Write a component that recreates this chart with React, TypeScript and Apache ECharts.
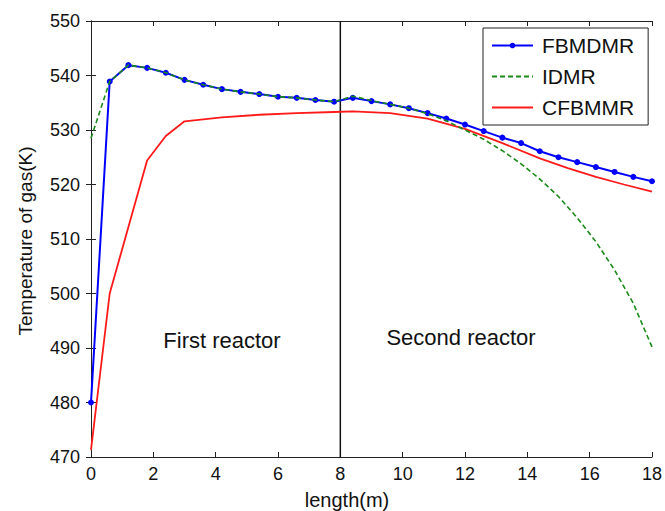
import React, { useEffect, useRef } from "react";
import * as echarts from "echarts";

const xPositions = [0, 0.6, 1.2, 1.8, 2.4, 3.0, 3.6, 4.2, 4.8, 5.4, 6.0, 6.6, 7.2, 7.8, 8.4, 9.0, 9.6, 10.2, 10.8, 11.4, 12.0, 12.6, 13.2, 13.8, 14.4, 15.0, 15.6, 16.2, 16.8, 17.4, 18.0];
const fbmdmr = [480.0, 538.9, 541.9, 541.4, 540.5, 539.2, 538.3, 537.5, 537.0, 536.6, 536.1, 535.9, 535.5, 535.2, 535.9, 535.3, 534.7, 534.0, 533.1, 532.1, 531.0, 529.8, 528.6, 527.6, 526.1, 525.0, 524.1, 523.2, 522.3, 521.4, 520.6];
const idmr = [528.5, 538.9, 541.9, 541.4, 540.5, 539.2, 538.3, 537.5, 537.0, 536.6, 536.1, 535.9, 535.5, 535.2, 536.2, 535.4, 534.7, 534.0, 533.0, 531.7, 530.0, 528.3, 526.2, 523.8, 521.0, 517.8, 513.9, 509.5, 504.3, 498.2, 490.2];
const cfbmmrX = [0, 0.6, 1.2, 1.8, 2.4, 3.0, 4.2, 5.4, 6.6, 7.8, 8.4, 9.6, 10.8, 12.0, 13.2, 14.4, 15.3, 16.2, 17.1, 18.0];
const cfbmmrY = [471.3, 500.0, 512.2, 524.4, 528.9, 531.6, 532.3, 532.8, 533.1, 533.3, 533.4, 533.1, 532.1, 530.2, 527.6, 524.8, 523.0, 521.4, 520.0, 518.7];
const seriesNames = ["FBMDMR", "IDMR", "CFBMMR"];
const reactorBoundary = 8;
const annotations = ["First reactor", "Second reactor"];
const xAxisTitle = "length(m)";
const yAxisTitle = "Temperature of gas(K)";

const FONT = "'Liberation Sans', Arial, sans-serif";
const AXIS_COLOR = "#222";

export default function App() {
  const ref = useRef<HTMLDivElement>(null);
  useEffect(() => {
    if (!ref.current) return;
    const chart = echarts.init(ref.current, undefined, { renderer: "svg" });
    const zip = (xs: number[], ys: number[]) => xs.map((x, i) => [x, ys[i]]);
    const axisCommon = {
      type: "value" as const,
      axisLine: { show: true, lineStyle: { color: AXIS_COLOR, width: 1 } },
      axisTick: { show: true, inside: true, length: 5, lineStyle: { color: AXIS_COLOR } },
      splitLine: { show: false },
    };
    chart.setOption({
      animation: false,
      backgroundColor: "#fff",
      grid: { left: 91, right: 13, top: 21, bottom: 54, containLabel: false },
      xAxis: [
        {
          ...axisCommon,
          position: "bottom",
          min: 0,
          max: 18,
          interval: 2,
          axisLabel: { color: "#111", fontSize: 18, fontFamily: FONT, margin: 8 },
        },
        {
          ...axisCommon,
          position: "top",
          min: 0,
          max: 18,
          interval: 2,
          axisLabel: { show: false },
        },
      ],
      yAxis: [
        {
          ...axisCommon,
          position: "left",
          min: 470,
          max: 550,
          interval: 10,
          axisLabel: { color: "#111", fontSize: 18, fontFamily: FONT, margin: 11 },
        },
        {
          ...axisCommon,
          position: "right",
          min: 470,
          max: 550,
          interval: 10,
          axisLabel: { show: false },
        },
      ],
      legend: {
        data: [
          { name: seriesNames[0] },
          { name: seriesNames[1], itemStyle: { opacity: 0 } },
          { name: seriesNames[2], itemStyle: { opacity: 0 } },
        ],
        orient: "vertical",
        left: 483,
        top: 28,
        padding: [7, 14, 7, 8],
        itemGap: 10,
        itemWidth: 41,
        itemHeight: 7,
        borderColor: "#222",
        borderWidth: 1,
        backgroundColor: "#fff",
        textStyle: { fontSize: 21, fontFamily: FONT, color: "#111", lineHeight: 20, padding: [0, 0, 0, 4] },
      },
      graphic: [
        {
          type: "text",
          x: 222,
          y: 340,
          style: { text: annotations[0], fontSize: 22, fontFamily: FONT, fill: "#111", align: "center", verticalAlign: "middle" },
        },
        {
          type: "text",
          x: 461,
          y: 337,
          style: { text: annotations[1], fontSize: 22, fontFamily: FONT, fill: "#111", align: "center", verticalAlign: "middle" },
        },
        {
          type: "text",
          x: 347,
          y: 500,
          style: { text: xAxisTitle, fontSize: 20, fontFamily: FONT, fill: "#111", align: "center", verticalAlign: "middle" },
        },
        {
          type: "text",
          x: 25,
          y: 241,
          rotation: Math.PI / 2,
          style: { text: yAxisTitle, fontSize: 19, fontFamily: FONT, fill: "#111", align: "center", verticalAlign: "middle" },
        },
      ],
      series: [
        {
          name: "divider",
          type: "line",
          data: [[reactorBoundary, 470], [reactorBoundary, 550]],
          symbol: "none",
          lineStyle: { color: "#111", width: 1.5 },
          silent: true,
          z: 1,
        },
        {
          name: seriesNames[0],
          type: "line",
          data: zip(xPositions, fbmdmr),
          symbol: "circle",
          symbolSize: 6,
          itemStyle: { color: "#0000ff" },
          lineStyle: { color: "#0000ff", width: 2 },
          z: 3,
        },
        {
          name: seriesNames[1],
          type: "line",
          data: zip(xPositions, idmr),
          symbol: "none",
          itemStyle: { color: "#1a8a1a" },
          lineStyle: { color: "#1a8a1a", width: 1.6, type: [5, 3] },
          z: 4,
        },
        {
          name: seriesNames[2],
          type: "line",
          data: zip(cfbmmrX, cfbmmrY),
          symbol: "none",
          itemStyle: { color: "#ff1a1a" },
          lineStyle: { color: "#ff1a1a", width: 1.8 },
          z: 2,
        },
      ],
    });
    return () => chart.dispose();
  }, []);
  return <div ref={ref} style={{ position: "fixed", left: 0, top: 0, width: 665, height: 511 }} />;
}
